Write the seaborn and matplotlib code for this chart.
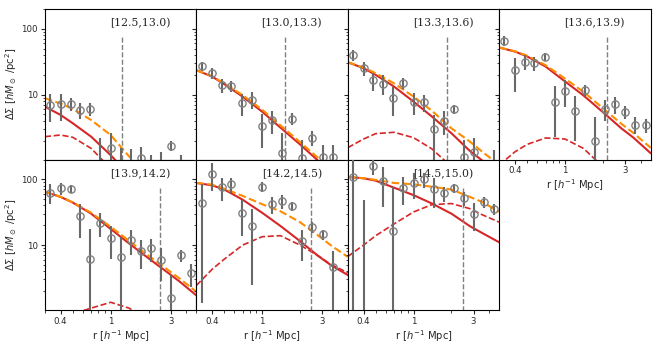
import matplotlib
matplotlib.use("Agg")
import matplotlib.pyplot as plt
from matplotlib.ticker import NullFormatter
import seaborn as sns

# mass bins (log M) shown in each panel
bins = ["[12.5,13.0)", "[13.0,13.3)", "[13.3,13.6)", "[13.6,13.9)",
        "[13.9,14.2)", "[14.2,14.5)", "[14.5,15.0)"]

# radial bins of the measured profiles
r_obs = [0.33, 0.40, 0.48, 0.57, 0.69, 0.83, 1.00, 1.20, 1.44, 1.74,
         2.09, 2.51, 3.02, 3.63, 4.37]
# radii where the model curves were read
r_mod = [0.3, 0.4, 0.5, 0.7, 1.0, 1.4, 2.0, 2.8, 3.5, 4.8]
# vertical marker radius per panel
r_cut = [1.22, 1.53, 1.83, 2.15, 2.45, 2.45, 2.45]

# measured Delta Sigma and errors
obs = [
    [6.97, 7.13, 7.3, 5.8, 6.05, 0.5, 1.56, 0.7, 0.6, 1.07, 0.8, 0.7, 1.67, 0.8, 0.5],
    [27.3, 21.4, 13.8, 13.4, 7.4, 8.4, 3.33, 4.07, 1.31, 4.31, 1.07, 2.21, 1.14, 1.14, 0.5],
    [40.2, 25.2, 16.5, 14.7, 8.8, 15.2, 7.64, 7.64, 2.97, 4.02, 5.98, 1.14, 1.36, 0.4, 0.7],
    [65.6, 23.5, 31.8, 30.1, 37.8, 7.8, 11.5, 5.7, 11.8, 2.0, 6.1, 7.1, 5.5, 3.5, 3.4],
    [63, 72.8, 71, 27.6, 6.24, 21.8, 12.8, 6.62, 12.1, 8.09, 8.9, 5.94, 1.57, 7.0, 3.71],
    [43.8, 121, 75.4, 83.8, 30.7, 19.2, 77, 41.8, 47, 39.4, 11.4, 18.7, 14.6, 4.64, 0.5],
    [110, 0.5, 160, 95.3, 16.6, 74.5, 86.7, 100, 70.2, 61, 72.8, 52.2, 30, 45.3, 35.8],
]
err = [
    [3.2, 3.2, 1.6, 1.6, 1.3, 1.66, 1.0, 0.85, 0.9, 0.55, 0.4, 0.65, 0.3, 0.4, 0.3],
    [4.5, 3.9, 3.3, 2.6, 2.7, 2.4, 1.8, 1.55, 1.27, 0.9, 0.97, 0.55, 0.6, 0.55, 0.3],
    [8.2, 5.9, 5.0, 4.9, 4.1, 2.9, 2.8, 2.2, 1.95, 1.6, 1.0, 0.9, 0.8, 0.3, 0.74],
    [11, 12.4, 8.3, 7.1, 5.8, 5.5, 5.0, 3.7, 2.4, 2.6, 2.1, 2.0, 1.3, 1.0, 0.8],
    [21, 15, 10, 15, 11.5, 8.7, 6.7, 6.5, 5, 3.8, 3.4, 3.1, 2.0, 1.5, 1.4],
    [42.5, 55, 28, 21, 17, 16.7, 13.7, 12.5, 11.5, 6.4, 5.6, 3.5, 2.6, 3.6, 0.3],
    [125, 48, 45, 57, 60, 34, 36, 25, 33, 16, 11.5, 13, 13.5, 9, 7],
]

# model: total, 1-halo, 2-halo
total = [
    [8.8, 7.3, 6.05, 4.1, 2.43, 1.15, 0.6, 0.3, 0.2, 0.1],
    [23.5, 19.0, 14.8, 9.8, 5.9, 3.4, 1.9, 1.08, 0.78, 0.5],
    [31, 25.8, 21.1, 14.8, 9.3, 5.66, 3.07, 1.93, 1.36, 0.85],
    [52, 45.5, 39, 28, 17.5, 11, 6.2, 3.6, 2.6, 1.55],
    [64.6, 54, 44.5, 31, 19, 11.6, 6.9, 4.3, 3.15, 1.95],
    [88, 83, 72, 56, 41.8, 32.6, 22.3, 13.9, 10, 6.6],
    [108.6, 104, 98, 88, 84, 77, 70, 54, 45.3, 32],
]
one_h = [
    [6.56, 4.9, 3.66, 2.29, 1.2, 0.6, 0.3, 0.15, 0.1, 0.05],
    [23.5, 18.8, 14.4, 9.3, 5.5, 3.14, 1.75, 0.98, 0.7, 0.45],
    [31, 25.2, 19.9, 13.2, 7.8, 4.62, 2.58, 1.39, 1.0, 0.6],
    [52, 45, 38, 26.7, 15.8, 9.7, 5.4, 3.07, 2.21, 1.28],
    [64.6, 54, 44.3, 30, 17.6, 10.6, 6.3, 3.9, 2.83, 1.72],
    [88, 81, 70, 49, 31, 19.5, 11.5, 6.8, 5.0, 3.5],
    [108.6, 103.5, 95.3, 74.5, 57.4, 42.8, 30, 19.4, 15.3, 11],
]
two_h = [
    [2.29, 2.43, 2.24, 1.52, 0.75, 0.4, 0.2, 0.1, 0.07, 0.04],
    [0.4, 0.5, 0.55, 0.6, 0.55, 0.45, 0.35, 0.3, 0.25, 0.2],
    [1.56, 2.11, 2.55, 2.67, 2.21, 1.49, 0.8, 0.45, 0.3, 0.2],
    [0.85, 1.35, 1.75, 2.19, 2.11, 1.52, 0.8, 0.55, 0.45, 0.35],
    [0.5, 0.75, 0.9, 1.1, 1.35, 1.1, 0.75, 0.45, 0.35, 0.25],
    [2.43, 4.28, 6.1, 10, 13.4, 13.9, 10, 6.85, 5.1, 3.8],
    [6.7, 10, 13.9, 21, 31.9, 41.2, 42.8, 35.8, 29, 22.3],
]

sns.set_style("ticks")
plt.rcParams["xtick.labelsize"] = 6.2
plt.rcParams["ytick.labelsize"] = 6.2
plt.rcParams["axes.labelsize"] = 7.2
plt.rcParams["axes.edgecolor"] = "black"
plt.rcParams["xtick.major.size"] = 3
plt.rcParams["ytick.major.size"] = 3
plt.rcParams["xtick.minor.size"] = 1.8
plt.rcParams["ytick.minor.size"] = 1.8
plt.rcParams["xtick.major.pad"] = 2
plt.rcParams["ytick.major.pad"] = 2

fig, axes = plt.subplots(2, 4, figsize=(6.6, 3.46), dpi=100, sharex=True, sharey=True)
fig.subplots_adjust(left=0.068, right=0.986, top=0.974, bottom=0.104,
                    wspace=0, hspace=0)
axes[1, 3].remove()

red = "#d62728"
for i, ax in enumerate(axes.flat[:7]):
    ax.set_xscale("log")
    ax.set_yscale("log")
    sns.lineplot(x=r_mod, y=two_h[i], ax=ax, color=red, linestyle="--", lw=1.2)
    sns.lineplot(x=r_mod, y=one_h[i], ax=ax, color=red, lw=1.5)
    sns.lineplot(x=r_mod, y=total[i], ax=ax, color="darkorange", linestyle="--", lw=1.5)
    ax.errorbar(r_obs, obs[i], yerr=err[i], fmt="o", mfc="none", mec="gray",
                ms=5.2, mew=1, ecolor="dimgray", elinewidth=1.5, zorder=5)
    ax.vlines(r_cut[i], 1, 80, colors="gray", linestyles="--", lw=1)
    ax.text(0.63, 0.905, bins[i], transform=ax.transAxes, ha="center",
            va="center", family="DejaVu Serif", fontsize=7.8)
    ax.set_xlabel("")
    ax.set_ylabel("")

ax0 = axes[0, 0]
ax0.set_xlim(0.3, 4.8)
ax0.set_ylim(1.03, 200)
ax0.set_xticks([0.4, 1, 3])
ax0.set_xticklabels(["0.4", "1", "3"])
ax0.set_yticks([10, 100])
ax0.set_yticklabels(["10", "100"])
ax0.xaxis.set_minor_formatter(NullFormatter())
ax0.yaxis.set_minor_formatter(NullFormatter())

axes[0, 3].tick_params(labelbottom=True)
for ax in [axes[1, 0], axes[1, 1], axes[1, 2], axes[0, 3]]:
    ax.set_xlabel(r"r [$h^{-1}$ Mpc]", labelpad=1.5)
    ax.xaxis.label.set_visible(True)
for ax in [axes[0, 0], axes[1, 0]]:
    ax.set_ylabel(r"ΔΣ [$hM_\odot$ /pc$^2$]", labelpad=1.5)

fig.savefig("out.png", dpi=100)
